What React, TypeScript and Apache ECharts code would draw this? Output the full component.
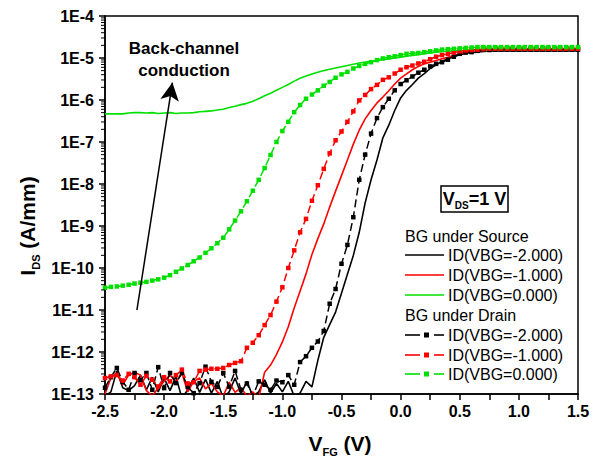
import React, { useEffect, useRef } from "react";
import * as echarts from "echarts";

// Front-gate sweep, V_FG in volts (0.05 V step)
const vfg = [
  -2.5, -2.45, -2.4, -2.35, -2.3, -2.25, -2.2, -2.15, -2.1, -2.05,
  -2, -1.95, -1.9, -1.85, -1.8, -1.75, -1.7, -1.65, -1.6, -1.55,
  -1.5, -1.45, -1.4, -1.35, -1.3, -1.25, -1.2, -1.15, -1.1, -1.05,
  -1, -0.95, -0.9, -0.85, -0.8, -0.75, -0.7, -0.65, -0.6, -0.55,
  -0.5, -0.45, -0.4, -0.35, -0.3, -0.25, -0.2, -0.15, -0.1, -0.05,
  0, 0.05, 0.1, 0.15, 0.2, 0.25, 0.3, 0.35, 0.4, 0.45,
  0.5, 0.55, 0.6, 0.65, 0.7, 0.75, 0.8, 0.85, 0.9, 0.95,
  1, 1.05, 1.1, 1.15, 1.2, 1.25, 1.3, 1.35, 1.4, 1.45, 1.5,
];

// log10(I_DS [A/mm]) — back gate under source
const srcVbgM2 = [
  -13.05, -12.95, -12.45, -12.85, -12.92, -12.8, -12.55, -12.9, -12.6, -12.95,
  -12.62, -12.92, -12.58, -13.1, -12.9, -12.62, -12.96, -12.65, -12.98, -12.7,
  -13.1, -12.95, -12.62, -13.0, -12.7, -13.05, -12.95, -12.66, -12.98, -12.75,
  -12.95, -12.7, -13.05, -12.98, -12.7, -12.83, -12.2, -11.65, -11.35, -11.05,
  -10.6, -10.15, -9.7, -9.15, -8.45, -7.9, -7.43, -6.9, -6.6, -6.25,
  -5.95, -5.77, -5.63, -5.48, -5.37, -5.25, -5.16, -5.08, -5.02, -4.97,
  -4.92, -4.89, -4.87, -4.86, -4.84, -4.83, -4.83, -4.83, -4.83, -4.83,
  -4.83, -4.83, -4.83, -4.83, -4.83, -4.83, -4.83, -4.83, -4.83, -4.83, -4.83,
];
const srcVbgM1 = [
  -13.0, -12.62, -12.5, -12.78, -12.55, -12.48, -12.55, -12.92, -13.05, -12.85,
  -12.7, -12.55, -12.72, -12.5, -12.95, -12.7, -12.62, -12.88, -12.75, -12.95,
  -13.05, -12.72, -12.96, -12.85, -13.05, -12.95, -13.1, -12.48, -12.31, -12.06,
  -11.76, -11.4, -10.95, -10.55, -10.14, -9.68, -9.3, -8.95, -8.55, -8.17,
  -7.8, -7.43, -7.05, -6.72, -6.45, -6.25, -6.07, -5.93, -5.78, -5.62,
  -5.48, -5.38, -5.28, -5.2, -5.14, -5.1, -5.06, -5.02, -4.98, -4.94,
  -4.9, -4.86, -4.83, -4.81, -4.8, -4.8, -4.8, -4.8, -4.8, -4.8,
  -4.8, -4.8, -4.8, -4.8, -4.8, -4.8, -4.8, -4.8, -4.8, -4.8, -4.8,
];
const srcVbg0 = [
  -6.33, -6.33, -6.33, -6.33, -6.31, -6.3, -6.3, -6.31, -6.3, -6.32,
  -6.31, -6.3, -6.32, -6.31, -6.31, -6.3, -6.28, -6.27, -6.26, -6.24,
  -6.22, -6.18, -6.15, -6.11, -6.08, -6.03, -5.97, -5.9, -5.84, -5.77,
  -5.7, -5.63, -5.55, -5.48, -5.43, -5.38, -5.34, -5.3, -5.27, -5.24,
  -5.21, -5.18, -5.15, -5.12, -5.1, -5.08, -5.06, -5.04, -5.02, -5.0,
  -4.98, -4.96, -4.94, -4.92, -4.9, -4.88, -4.86, -4.85, -4.84, -4.83,
  -4.82, -4.82, -4.81, -4.81, -4.81, -4.8, -4.8, -4.8, -4.8, -4.8,
  -4.8, -4.8, -4.8, -4.8, -4.8, -4.8, -4.8, -4.8, -4.8, -4.8, -4.8,
];

// log10(I_DS [A/mm]) — back gate under drain
const drnVbgM2 = [
  -12.85, -12.6, -12.38, -12.71, -12.9, -12.5, -12.67, -12.5, -12.9, -12.36,
  -12.86, -12.5, -12.74, -12.5, -12.83, -12.98, -12.74, -12.35, -12.71, -12.83,
  -12.5, -12.83, -12.45, -12.9, -12.75, -13.05, -12.7, -12.78, -12.9, -12.68,
  -12.72, -12.55, -12.78, -12.24, -12.1, -11.9, -11.75, -11.5, -10.85, -10.5,
  -9.9, -9.45, -8.79, -7.9, -7.3, -6.8, -6.43, -6.17, -5.97, -5.77,
  -5.62, -5.53, -5.44, -5.35, -5.28, -5.2, -5.14, -5.1, -5.04, -4.97,
  -4.9, -4.87, -4.86, -4.83, -4.81, -4.81, -4.8, -4.8, -4.8, -4.8,
  -4.8, -4.8, -4.8, -4.8, -4.8, -4.8, -4.8, -4.8, -4.8, -4.8, -4.8,
];
const drnVbgM1 = [
  -12.62, -12.58, -12.55, -12.68, -12.52, -12.6, -12.78, -12.57, -12.66, -12.82,
  -12.6, -12.7, -12.55, -12.42, -12.75, -12.72, -12.45, -12.42, -12.4, -12.4,
  -12.38, -12.31, -12.26, -12.22, -11.9, -11.78, -11.6, -11.36, -11.12, -10.8,
  -10.46, -10.0, -9.58, -9.15, -8.83, -8.4, -8.03, -7.64, -7.27, -6.96,
  -6.75, -6.52, -6.27, -6.01, -5.88, -5.74, -5.64, -5.52, -5.46, -5.37,
  -5.28, -5.22, -5.18, -5.13, -5.09, -5.03, -4.97, -4.93, -4.9, -4.87,
  -4.84, -4.82, -4.81, -4.8, -4.79, -4.78, -4.78, -4.78, -4.78, -4.78,
  -4.78, -4.78, -4.78, -4.78, -4.78, -4.78, -4.78, -4.78, -4.78, -4.78, -4.78,
];
const drnVbg0 = [
  -10.47, -10.45, -10.44, -10.42, -10.4, -10.37, -10.35, -10.33, -10.3, -10.27,
  -10.23, -10.17, -10.09, -10.01, -9.93, -9.84, -9.75, -9.64, -9.53, -9.41,
  -9.28, -9.08, -8.87, -8.65, -8.41, -8.16, -7.9, -7.62, -7.31, -7.0,
  -6.74, -6.52, -6.29, -6.12, -5.97, -5.87, -5.77, -5.66, -5.57, -5.47,
  -5.39, -5.33, -5.25, -5.19, -5.14, -5.1, -5.05, -5.01, -4.98, -4.96,
  -4.93, -4.9, -4.89, -4.88, -4.86, -4.84, -4.82, -4.8, -4.79, -4.78,
  -4.77, -4.76, -4.75, -4.74, -4.74, -4.74, -4.74, -4.74, -4.74, -4.74,
  -4.74, -4.74, -4.74, -4.74, -4.74, -4.74, -4.74, -4.74, -4.74, -4.74, -4.74,
];

const seriesNames = ["ID(VBG=-2.000)", "ID(VBG=-1.000)", "ID(VBG=0.000)"];
const groupTitles = ["BG under Source", "BG under Drain"];

// Arrow for the back-channel annotation: [V_FG, I_DS]
const arrowTail = [-2.23, 1e-11];
const arrowHead = [-1.93, 2.6e-6];

const X_MIN = -2.5;
const X_MAX = 1.5;
const Y_MIN_EXP = -13;
const Y_MAX_EXP = -4;

const BLACK = "#000000";
const RED = "#ff0000";
const GREEN = "#00e000";
const FONT = '"Liberation Sans", Arial, Helvetica, sans-serif';

const toPairs = (logs: number[]) => logs.map((l, i) => [vfg[i], Math.pow(10, l)]);

function App() {
  const ref = useRef<HTMLDivElement>(null);

  useEffect(() => {
    if (!ref.current) return;
    const chart = echarts.init(ref.current, null, { renderer: "svg" });

    const colors = [BLACK, RED, GREEN];

    const solid = [srcVbgM2, srcVbgM1, srcVbg0].map((d, i) => ({
      name: seriesNames[i],
      type: "line",
      data: toPairs(d),
      showSymbol: false,
      symbol: "none",
      lineStyle: { color: colors[i], width: 1.6, type: "solid" },
      itemStyle: { color: colors[i] },
      z: 3,
      ...(i === 2
        ? {
            markLine: {
              silent: true,
              symbol: ["none", "arrow"],
              symbolSize: [14, 18],
              label: { show: false },
              lineStyle: { color: BLACK, width: 1.5, type: "solid" },
              emphasis: { disabled: true },
              data: [[{ coord: arrowTail }, { coord: arrowHead }]],
            },
          }
        : {}),
    }));

    const dashed = [drnVbgM2, drnVbgM1, drnVbg0].map((d, i) => ({
      name: seriesNames[i] + " ",
      type: "line",
      data: toPairs(d),
      showSymbol: true,
      symbol: "rect",
      symbolSize: 4.5,
      lineStyle: { color: colors[i], width: 1.5, type: [8, 4] },
      itemStyle: { color: colors[i] },
      z: 4,
    }));

    // log-axis minor ticks at 2..9 × 10^n
    const minorTickVals: number[][] = [];
    for (let e = Y_MIN_EXP; e < Y_MAX_EXP; e++) {
      for (let k = 2; k <= 9; k++) minorTickVals.push([X_MIN, k * Math.pow(10, e)]);
    }

    const minorTicks = {
      type: "custom",
      silent: true,
      z: 10,
      clip: false,
      data: minorTickVals,
      renderItem: (_p: any, api: any) => {
        const p = api.coord([api.value(0), api.value(1)]);
        return {
          type: "line",
          shape: { x1: p[0] - 4, y1: p[1], x2: p[0], y2: p[1] },
          style: { stroke: BLACK, lineWidth: 1 },
        };
      },
    };

    // Legend block drawn by hand (two groups with headers)
    const legendX = 405;
    const lineEnd = 444;
    const textX = 448;
    const rowY = [236, 255, 275, 295, 315, 335, 355, 374];
    const legendEls: any[] = [];
    const addText = (text: string, x: number, y: number) =>
      legendEls.push({
        type: "text",
        x,
        y,
        style: {
          text,
          fill: BLACK,
          font: `16px ${FONT}`,
          textAlign: "left",
          textVerticalAlign: "middle",
        },
      });
    addText(groupTitles[0], legendX, rowY[0]);
    for (let i = 0; i < 3; i++) {
      const y = rowY[1 + i];
      legendEls.push({
        type: "line",
        shape: { x1: legendX, y1: y, x2: lineEnd, y2: y },
        style: { stroke: colors[i], lineWidth: 1.6 },
      });
      addText(seriesNames[i], textX, y);
    }
    addText(groupTitles[1], legendX, rowY[4]);
    for (let i = 0; i < 3; i++) {
      const y = rowY[5 + i];
      legendEls.push({
        type: "line",
        shape: { x1: legendX, y1: y, x2: legendX + 15, y2: y },
        style: { stroke: colors[i], lineWidth: 1.6 },
      });
      legendEls.push({
        type: "rect",
        shape: { x: legendX + 19, y: y - 2.5, width: 5, height: 5 },
        style: { fill: colors[i] },
      });
      legendEls.push({
        type: "line",
        shape: { x1: legendX + 29, y1: y, x2: lineEnd, y2: y },
        style: { stroke: colors[i], lineWidth: 1.6 },
      });
      addText(seriesNames[i], textX, y);
    }

    const titleRich = {
      b: { fontSize: 21, fontWeight: "bold", fontFamily: FONT, fill: BLACK, lineHeight: 28, verticalAlign: "middle" },
      s: { fontSize: 11, fontWeight: "bold", fontFamily: FONT, fill: BLACK, lineHeight: 28, verticalAlign: "bottom" },
    };

    const option: any = {
      animation: false,
      backgroundColor: "#ffffff",
      grid: {
        left: 105,
        right: 20,
        top: 16,
        bottom: 72,
        show: true,
        borderColor: BLACK,
        borderWidth: 1.5,
        backgroundColor: "transparent",
      },
      xAxis: {
        type: "value",
        min: X_MIN,
        max: X_MAX,
        interval: 0.5,
        axisLine: { show: true, onZero: false, lineStyle: { color: BLACK, width: 1.5 } },
        axisTick: { show: true, length: 6, lineStyle: { color: BLACK, width: 1.5 } },
        minorTick: { show: true, splitNumber: 2, length: 6, lineStyle: { color: BLACK, width: 1.5 } },
        splitLine: { show: false },
        axisLabel: {
          color: BLACK,
          fontSize: 16,
          fontWeight: "bold",
          fontFamily: FONT,
          margin: 9,
          formatter: (v: number) => v.toFixed(1),
        },
      },
      yAxis: {
        type: "log",
        logBase: 10,
        min: Math.pow(10, Y_MIN_EXP),
        max: Math.pow(10, Y_MAX_EXP),
        splitNumber: 9,
        interval: 1,
        axisLine: { show: true, onZero: false, lineStyle: { color: BLACK, width: 1.5 } },
        axisTick: { show: true, length: 6, lineStyle: { color: BLACK, width: 1.5 } },
        splitLine: { show: false },
        axisLabel: {
          color: BLACK,
          fontSize: 16,
          fontWeight: "bold",
          fontFamily: FONT,
          margin: 11,
          formatter: (v: number) => "1E" + Math.round(Math.log10(v)),
        },
      },
      graphic: [
        {
          type: "text",
          x: 184,
          y: 59,
          style: {
            text: "Back-channel\nconduction",
            fill: BLACK,
            font: `bold 17px ${FONT}`,
            lineHeight: 22,
            textAlign: "center",
            textVerticalAlign: "middle",
          },
        },
        {
          type: "rect",
          shape: { x: 441, y: 186, width: 67, height: 26 },
          style: { fill: "#ffffff", stroke: BLACK, lineWidth: 1.5 },
        },
        {
          type: "text",
          x: 474.5,
          y: 199,
          style: {
            text: "{b|V}{s|DS}{b|=1 V}",
            textAlign: "center",
            textVerticalAlign: "middle",
            rich: {
              b: { fontSize: 18, fontWeight: "bold", fontFamily: FONT, fill: BLACK, lineHeight: 22, verticalAlign: "middle" },
              s: { fontSize: 10, fontWeight: "bold", fontFamily: FONT, fill: BLACK, lineHeight: 22, verticalAlign: "bottom" },
            },
          },
        },
        {
          type: "text",
          x: 27,
          y: 226,
          rotation: Math.PI / 2,
          style: {
            text: "{b|I}{s|DS}{b| (A/mm)}",
            textAlign: "center",
            textVerticalAlign: "middle",
            rich: titleRich,
          },
        },
        {
          type: "text",
          x: 340,
          y: 443,
          style: {
            text: "{b|V}{s|FG}{b| (V)}",
            textAlign: "center",
            textVerticalAlign: "middle",
            rich: titleRich,
          },
        },
        ...legendEls,
      ],
      series: [...solid, ...dashed, minorTicks],
    };

    chart.setOption(option);
    return () => chart.dispose();
  }, []);

  return <div ref={ref} style={{ width: 598, height: 466, position: "absolute", left: 0, top: 0 }} />;
}

export default App;
